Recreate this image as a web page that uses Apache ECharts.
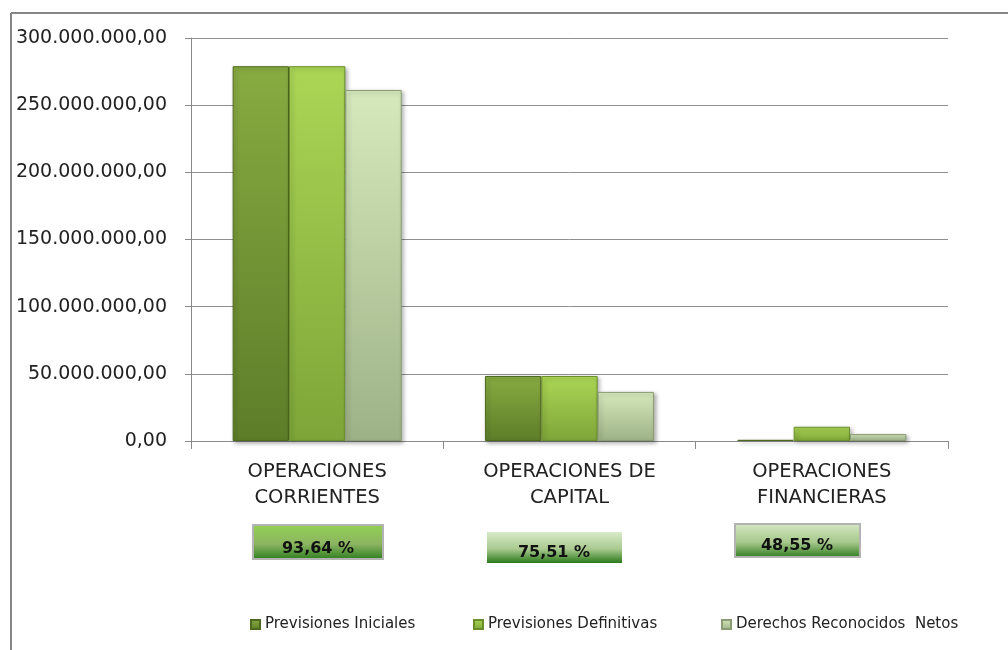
<!DOCTYPE html>
<html>
<head>
<meta charset="utf-8">
<script src="https://cdn.jsdelivr.net/npm/echarts@6/dist/echarts.min.js"></script>
<style>
html,body{margin:0;padding:0;background:#fff;}
#chart{width:1008px;height:650px;}
</style>
</head>
<body>
<div id="chart"></div>
<script>
var categories = ['OPERACIONES\nCORRIENTES', 'OPERACIONES DE\nCAPITAL', 'OPERACIONES\nFINANCIERAS'];
var seriesNames = ['Previsiones Iniciales', 'Previsiones Definitivas', 'Derechos Reconocidos  Netos'];
var previsionesIniciales = [279.0e6, 48.4e6, 0.9e6];
var previsionesDefinitivas = [279.0e6, 48.4e6, 10.6e6];
var derechosReconocidos = [261.3e6, 36.55e6, 5.15e6];
var percentages = ['93,64 %', '75,51 %', '48,55 %'];
var yTicks = { min: 0, max: 300e6, interval: 50e6 };

function fmt(v) {
  var s = Math.round(v).toString().replace(/\B(?=(\d{3})+(?!\d))/g, '.');
  return s + ',00';
}
function grad(top, bottom) {
  return new echarts.graphic.LinearGradient(0, 0, 0, 1, [
    { offset: 0, color: top }, { offset: 1, color: bottom }
  ]);
}
var FONT = 'DejaVu Sans';
var chart = echarts.init(document.getElementById('chart'));

var seriesStyles = [
  { c: grad('#88ab41', '#5d7d29'), b: '#4d6a1f' },
  { c: grad('#abd655', '#7da538'), b: '#6a8e2b' },
  { c: grad('#d6e9bd', '#9eb287'), b: '#8a9c73' }
];
var seriesData = [previsionesIniciales, previsionesDefinitivas, derechosReconocidos];

var series = seriesData.map(function (d, i) {
  return {
    name: seriesNames[i],
    type: 'bar',
    data: d,
    barGap: '0%',
    barCategoryGap: '33%',
    itemStyle: {
      color: seriesStyles[i].c,
      borderColor: seriesStyles[i].b,
      borderWidth: 1,
      shadowBlur: 4,
      shadowOffsetX: 2,
      shadowOffsetY: 2,
      shadowColor: 'rgba(0,0,0,0.3)'
    }
  };
});

var legendLefts = [245, 468, 716];
var legends = seriesNames.map(function (n, i) {
  return {
    data: [n],
    left: legendLefts[i],
    top: 612,
    icon: 'rect',
    itemWidth: 9,
    itemHeight: 9,
    itemGap: 0,
    textStyle: { fontFamily: FONT, fontSize: 15, color: '#222' }
  };
});

var boxes = [
  { x: 253, y: 525, w: 130, h: 34, top: '#93d152', mid: '#8db562', bot: '#2c7d1d', border: true, tx: 318, ty: 549 },
  { x: 487, y: 532, w: 135, h: 31, top: '#d8ebc8', mid: '#a9c98f', bot: '#2b7a1b', border: false, tx: 554, ty: 553 },
  { x: 735, y: 524, w: 125, h: 33, top: '#d5e9c4', mid: '#a7c88c', bot: '#2d7b1d', border: true, tx: 797, ty: 546 }
];
var graphics = [
  { type: 'line', shape: { x1: 11, y1: 13, x2: 1008, y2: 13 }, style: { stroke: '#858585', lineWidth: 2 }, z: 0 },
  { type: 'line', shape: { x1: 11, y1: 13, x2: 11, y2: 650 }, style: { stroke: '#858585', lineWidth: 2 }, z: 0 }
];
boxes.forEach(function (b, i) {
  graphics.push({
    type: 'rect',
    shape: { x: b.x, y: b.y, width: b.w, height: b.h },
    style: {
      fill: new echarts.graphic.LinearGradient(0, 0, 0, 1, [
        { offset: 0, color: b.top }, { offset: 0.55, color: b.mid }, { offset: 1, color: b.bot }
      ]),
      stroke: b.border ? '#b3b3b3' : null,
      lineWidth: b.border ? 2 : 0
    }
  });
  graphics.push({
    type: 'text',
    x: b.tx, y: b.ty,
    style: {
      text: percentages[i],
      fontFamily: FONT, fontSize: 16, fontWeight: 'bold', fill: '#111',
      align: 'center', verticalAlign: 'middle'
    }
  });
});

chart.setOption({
  animation: false,
  backgroundColor: '#fff',
  grid: { left: 191, right: 60, top: 38, bottom: 209, containLabel: false },
  legend: legends,
  xAxis: {
    type: 'category',
    data: categories,
    axisLine: { lineStyle: { color: '#8a8a8a', width: 1 } },
    axisTick: { show: true, length: 8, lineStyle: { color: '#8a8a8a' } },
    axisLabel: { fontFamily: FONT, fontSize: 19.5, color: '#222', lineHeight: 26, margin: 18 }
  },
  yAxis: {
    type: 'value',
    min: yTicks.min, max: yTicks.max, interval: yTicks.interval,
    axisLine: { show: true, lineStyle: { color: '#8a8a8a' } },
    axisTick: { show: true, length: 6, lineStyle: { color: '#8a8a8a' } },
    splitLine: { lineStyle: { color: '#8f8f8f', width: 1 } },
    axisLabel: { fontFamily: FONT, fontSize: 19, color: '#222', margin: 24, formatter: fmt }
  },
  series: series,
  graphic: graphics
});
</script>
</body>
</html>
